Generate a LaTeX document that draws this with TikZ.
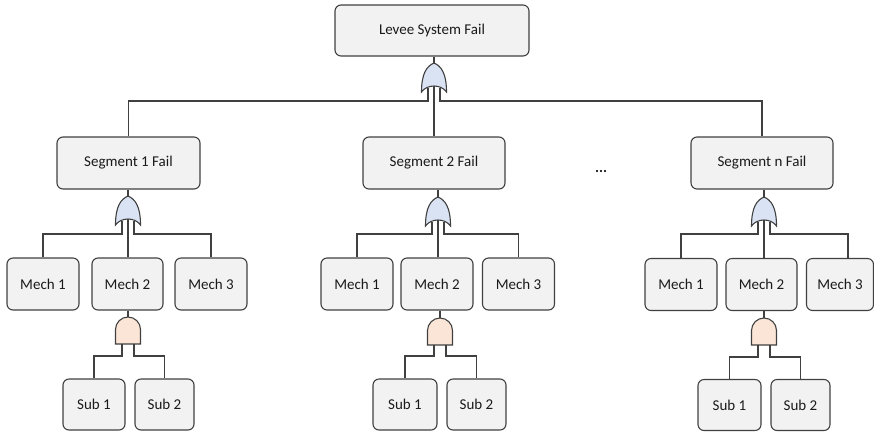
\documentclass[tikz,border=0pt]{standalone}
\usepackage{fontspec}
\setmainfont{Carlito}
\usetikzlibrary{calc}

\definecolor{boxfill}{HTML}{F2F2F2}
\definecolor{boxline}{HTML}{404040}
\definecolor{orfill}{HTML}{DAE3F3}
\definecolor{andfill}{HTML}{FBE5D6}
\definecolor{txt}{HTML}{1A1A1A}

\tikzset{
  evbox/.style={draw=boxline, fill=boxfill, rounded corners=6pt, line width=1.1pt,
    inner sep=0pt, minimum height=51pt, text=txt,
    font=\fontsize{15}{18}\selectfont},
  wire/.style={draw=boxline, line width=1.1pt},
  orgate/.pic={
    \path[draw=boxline, fill=orfill, line width=1.1pt]
      (0,0) .. controls (-7,3) and (-12.5,10) .. (-12.5,29)
      .. controls (-7,21) and (7,21) .. (12.5,29)
      .. controls (12.5,10) and (7,3) .. (0,0) -- cycle;
    \coordinate (-out) at (0,0);
    \coordinate (-l) at (-6,24.5);
    \coordinate (-c) at (0,23);
    \coordinate (-r) at (6,24.5);
  },
  andgate/.pic={
    \path[draw=boxline, fill=andfill, line width=1.1pt]
      (-12.5,27) -- (-12.5,12.5)
      .. controls (-12.5,5.6) and (-6.9,0) .. (0,0)
      .. controls (6.9,0) and (12.5,5.6) .. (12.5,12.5)
      -- (12.5,27) -- cycle;
    \coordinate (-out) at (0,0);
    \coordinate (-l) at (-6,27);
    \coordinate (-r) at (6,27);
  }
}

\begin{document}
\begin{tikzpicture}[x=1pt, y=-1pt]
\useasboundingbox (0,0) rectangle (874,432);

% levels of the horizontal buses
\coordinate (bus0) at (0,101);
\coordinate (busA) at (0,234);
\coordinate (busB) at (0,356);
\coordinate (busBn) at (0,357);

% top event
\node[evbox, minimum width=194pt] (top) at (432,30.5) {Levee System Fail};
\pic (gt) at (434,63) {orgate};

% segment events
\node[evbox, minimum width=143pt, minimum height=52pt] (seg1) at (128.5,163) {Segment 1 Fail};
\node[evbox, minimum width=142pt, minimum height=52pt] (seg2) at (434,163) {Segment 2 Fail};
\node[evbox, minimum width=142pt, minimum height=52pt] (segn) at (762,163) {Segment n Fail};
\node[text=txt, font=\fontsize{15}{18}\bfseries] (dots) at (601,171) {...};

\pic (g1) at (128,196) {orgate};
\pic (g2) at (438,197) {orgate};
\pic (gn) at (764,197) {orgate};

% mechanisms
\node[evbox, minimum width=72pt, minimum height=52pt] (m11) at (43,284) {Mech 1};
\node[evbox, minimum width=71pt, minimum height=52pt] (m12) at (127.5,284) {Mech 2};
\node[evbox, minimum width=72pt, minimum height=52pt] (m13) at (211,284) {Mech 3};

\node[evbox, minimum width=72pt, minimum height=52pt] (m21) at (357,284) {Mech 1};
\node[evbox, minimum width=72pt, minimum height=52pt] (m22) at (437,284) {Mech 2};
\node[evbox, minimum width=72pt, minimum height=52pt] (m23) at (518.5,284) {Mech 3};

\node[evbox, minimum width=72pt, minimum height=52pt] (mn1) at (681,284.5) {Mech 1};
\node[evbox, minimum width=71pt, minimum height=52pt] (mn2) at (761.5,284.5) {Mech 2};
\node[evbox, minimum width=67pt, minimum height=52pt] (mn3) at (840,284.5) {Mech 3};
\coordinate (mn3in) at ([xshift=8pt]mn3.north);

\pic (a1) at (128,317) {andgate};
\pic (a2) at (440,318) {andgate};
\pic (an) at (764,318) {andgate};

% sub-mechanisms
\node[evbox, minimum width=62pt] (s11) at (94,404.5) {Sub 1};
\node[evbox, minimum width=59pt] (s12) at (164.5,404.5) {Sub 2};
\node[evbox, minimum width=64pt] (s21) at (405,404.5) {Sub 1};
\node[evbox, minimum width=59pt] (s22) at (476.5,404.5) {Sub 2};
\node[evbox, minimum width=63pt] (sn1) at (729.5,405) {Sub 1};
\node[evbox, minimum width=59pt] (sn2) at (800.5,405) {Sub 2};

% top gate wiring
\draw[wire] (top.south -| gt-out) -- (gt-out);
\draw[wire] (gt-l) |- (bus0 -| seg1.north) -- (seg1.north);
\draw[wire] (gt-c) -- (seg2.north -| gt-c);
\draw[wire] (gt-r) |- (bus0 -| segn.north) -- (segn.north);

% segment gates wiring
\draw[wire] (seg1.south -| g1-out) -- (g1-out);
\draw[wire] (g1-l) |- (busA -| m11.north) -- (m11.north);
\draw[wire] (g1-c) -- (m12.north -| g1-c);
\draw[wire] (g1-r) |- (busA -| m13.north) -- (m13.north);

\draw[wire] (seg2.south -| g2-out) -- (g2-out);
\draw[wire] (g2-l) |- (busA -| m21.north) -- (m21.north);
\draw[wire] (g2-c) -- (m22.north -| g2-c);
\draw[wire] (g2-r) |- (busA -| m23.north) -- (m23.north);

\draw[wire] (segn.south -| gn-out) -- (gn-out);
\draw[wire] (gn-l) |- (busA -| mn1.north) -- (mn1.north);
\draw[wire] (gn-c) -- (mn2.north -| gn-c);
\draw[wire] (gn-r) |- (busA -| mn3in) -- (mn3in);

% AND gates wiring
\draw[wire] (m12.south -| a1-out) -- (a1-out);
\draw[wire] (a1-l) |- (busB -| s11.north) -- (s11.north);
\draw[wire] (a1-r) |- (busB -| s12.north) -- (s12.north);

\draw[wire] (m22.south -| a2-out) -- (a2-out);
\draw[wire] (a2-l) |- (busB -| s21.north) -- (s21.north);
\draw[wire] (a2-r) |- (busB -| s22.north) -- (s22.north);

\draw[wire] (mn2.south -| an-out) -- (an-out);
\draw[wire] (an-l) |- (busBn -| sn1.north) -- (sn1.north);
\draw[wire] (an-r) |- (busBn -| sn2.north) -- (sn2.north);
\end{tikzpicture}
\end{document}
